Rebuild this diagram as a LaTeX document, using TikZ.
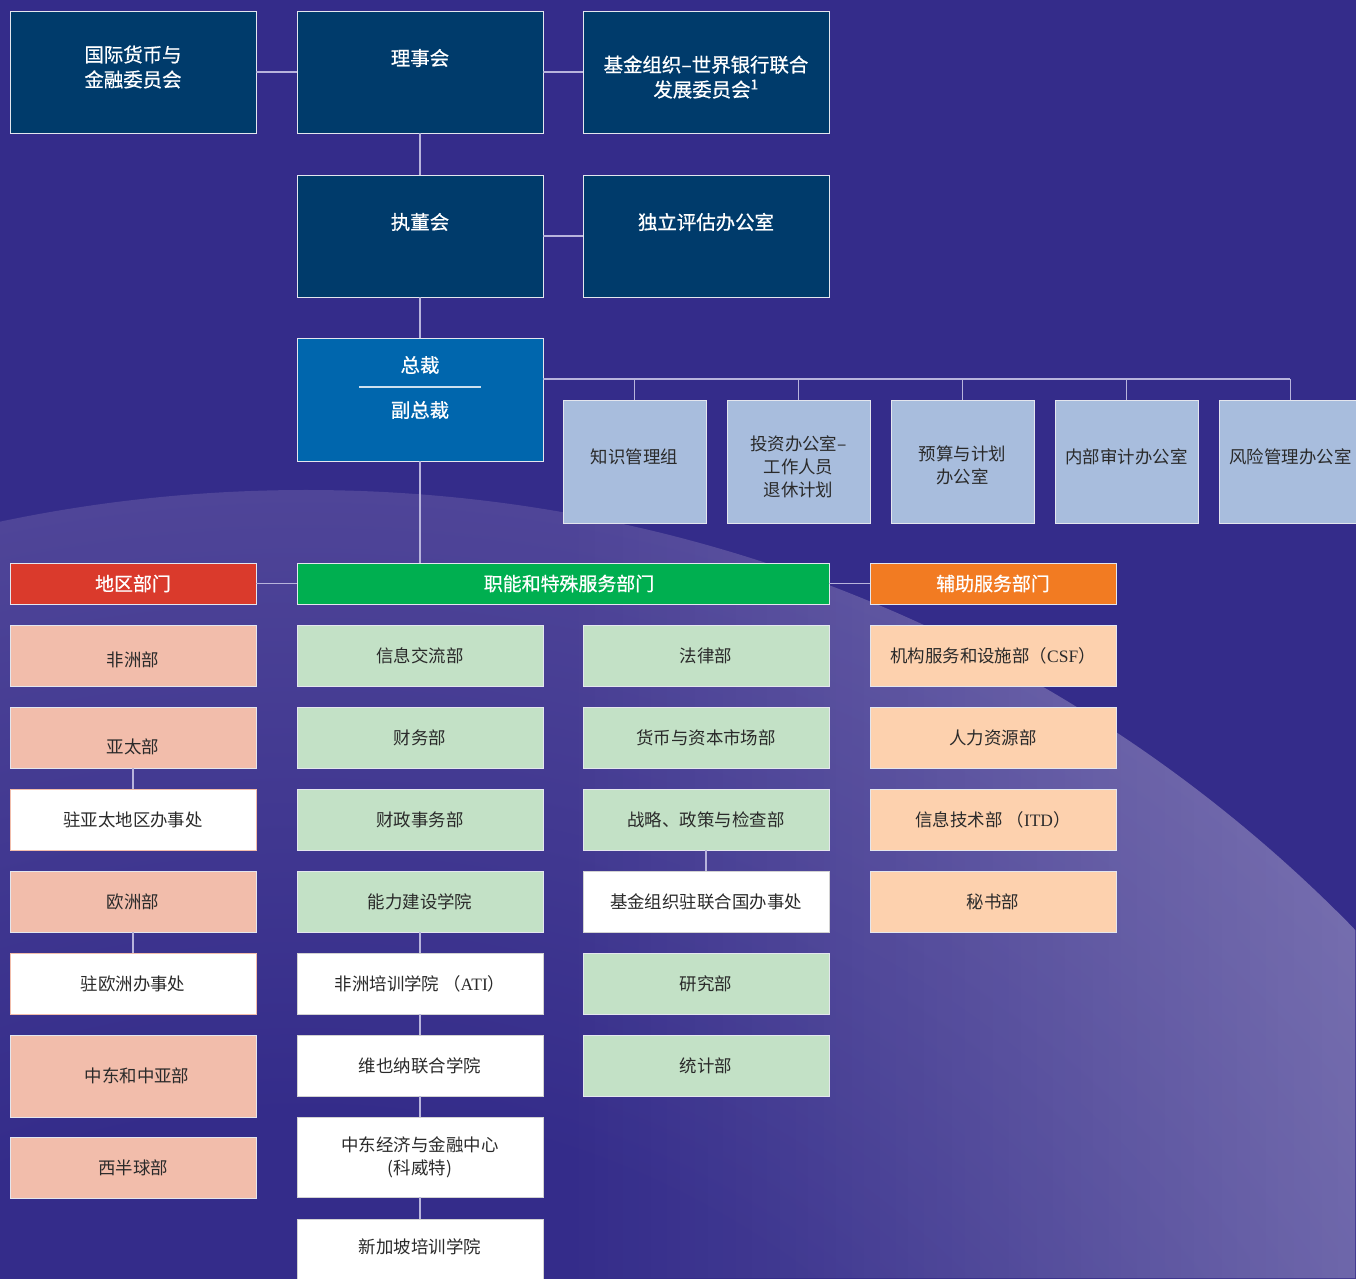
\documentclass[tikz,border=0pt]{standalone}
\usepackage{fontspec}
\setmainfont{Noto Sans CJK SC}
\newfontfamily\medfont[FakeBold=0.7]{Noto Sans CJK SC}
\newfontfamily\tms{Liberation Serif}
\usetikzlibrary{fadings}
\definecolor{bg}{HTML}{342C8A}
\definecolor{rim}{HTML}{4F4598}
\definecolor{navy}{HTML}{003B6B}
\definecolor{presc}{HTML}{0066AD}
\definecolor{lblue}{HTML}{A8BDDD}
\definecolor{hred}{HTML}{DA3A2C}
\definecolor{hgreen}{HTML}{00AF50}
\definecolor{horange}{HTML}{F27B22}
\definecolor{pinkc}{HTML}{F2BDAB}
\definecolor{lgreen}{HTML}{C3E1C6}
\definecolor{peach}{HTML}{FDD1AE}
\definecolor{connc}{HTML}{B8B4DC}
\definecolor{txtc}{HTML}{2A2A2A}
\definecolor{bline}{HTML}{E4E6EE}
\pgfdeclareradialshading{rimshade}{\pgfpoint{0bp}{0bp}}{color(0bp)=(bg); color(14bp)=(bg); color(25bp)=(rim); color(50bp)=(rim)}
\tikzset{
  box/.style={draw=bline, line width=1bp, inner sep=2bp, outer sep=0pt, align=center, anchor=north west, minimum width=246bp, minimum height=61bp},
  navybox/.style={box, fill=navy, minimum height=122bp},
  presbox/.style={box, fill=presc, minimum height=123bp},
  navytxt/.style={align=center, text=white, inner sep=0pt, font=\medfont\fontsize{19.5}{25}\selectfont},
  lbox/.style={box, fill=lblue, minimum width=143bp, minimum height=123bp, text=txtc, font=\fontsize{17.5}{23}\selectfont},
  hdr/.style={box, minimum height=41bp, text=white, font=\medfont\fontsize{19}{22}\selectfont},
  dept/.style={box, text=txtc, font=\fontsize{17.5}{23}\selectfont},
  pinkbox/.style={dept, fill=pinkc},
  greenbox/.style={dept, fill=lgreen},
  peachbox/.style={dept, fill=peach},
  whitebox/.style={dept, fill=white, draw=gray!35},
  conn/.style={draw=connc, line width=1.5bp},
}
\newcommand{\upby}[2]{\raisebox{#1}[\height][\depth]{#2}}
\newcommand{\dnlines}[2]{\raisebox{-#1}[\height][\depth]{\begin{tabular}{@{}c@{}}#2\end{tabular}}}
\begin{document}
\begin{tikzpicture}[x=1bp,y=-1bp]
\useasboundingbox (0,0) rectangle (1356,1278);
\fill[bg] (0,0) rectangle (1356,1278);
% background arc
\shade[shading=rimshade] (306,1910) ellipse [x radius=1450bp, y radius=1420bp];
\begin{scope}
  \clip (306,1910) ellipse [x radius=1450bp, y radius=1420bp];
  \fill[white, fill opacity=0.22, path fading=west] (560,480) rectangle (1356,1278);
\end{scope}

% top boxes
\node[navybox] (imfc) at (10,11) {};
\node[navytxt] (imfcT) at (133,67) {国际货币与\\金融委员会};
\node[navybox] (bog) at (297,11) {};
\node[navytxt] (bogT) at (420,58) {理事会};
\node[navybox] (dc) at (583,11) {};
\node[navytxt] (dcT) at (706,77) {基金组织–世界银行联合\\发展委员会\textsuperscript{1}};
\node[navybox] (eb) at (297,175) {};
\node[navytxt] (ebT) at (420,222) {执董会};
\node[navybox] (ieo) at (583,175) {};
\node[navytxt] (ieoT) at (706,222) {独立评估办公室};
\node[presbox] (md) at (297,338) {};
\node[navytxt] (mdT) at (420,365) {总裁};
\node[navytxt] (dmdT) at (420,410) {副总裁};
\coordinate (sepL) at (359,387);
\coordinate (sepR) at (481,387);
\draw[draw=white!80!presc, line width=1.5bp] (sepL) -- (sepR);

\draw[conn] (imfc.east) -- (bog.west);
\draw[conn] (bog.east) -- (dc.west);
\draw[conn] (bog.south) -- (eb.north);
\draw[conn] (eb.east) -- (ieo.west);
\draw[conn] (eb.south) -- (md.north);

% offices
\node[lbox] (k1) at (563,400) {\upby{5bp}{知识管理组}};
\node[lbox] (k2) at (727,400) {\dnlines{7bp}{投资办公室–\\工作人员\\退休计划}};
\node[lbox] (k3) at (891,400) {\dnlines{6bp}{预算与计划\\办公室}};
\node[lbox] (k4) at (1055,400) {\upby{5bp}{内部审计办公室}};
\node[lbox] (k5) at (1219,400) {\upby{5bp}{风险管理办公室}};
\coordinate (busL) at (543,379);
\coordinate (busR) at (1290,379);
\draw[conn] (busL) -- (busR);
\foreach \k in {k1,k2,k3,k4,k5} { \draw[conn] (\k.north) -- (\k.north |- busL); }

% headers
\node[hdr, fill=hred] (reg) at (10,563) {地区部门};
\node[hdr, fill=hgreen, minimum width=532bp] (func) at (297,563) {\upby{0bp}{\hspace{12bp}职能和特殊服务部门}};
\node[hdr, fill=horange] (sup) at (870,563) {辅助服务部门};
\draw[conn] (md.south) -- (md.south |- func.north);
\draw[conn] (reg.east) -- (func.west);
\draw[conn] (func.east) -- (sup.west);

% regional
\node[pinkbox] (afr) at (10,625) {\upby{-4bp}{非洲部}};
\node[pinkbox] (apd) at (10,707) {\upby{-9bp}{亚太部}};
\node[whitebox, draw=pinkc] (apo) at (10,789) {驻亚太地区办事处};
\node[pinkbox] (eur) at (10,871) {欧洲部};
\node[whitebox, draw=pinkc] (euo) at (10,953) {驻欧洲办事处};
\node[pinkbox, minimum height=82bp] (mcd) at (10,1035) {\hspace{8bp}中东和中亚部};
\node[pinkbox] (whd) at (10,1137) {西半球部};
\draw[conn] (apd.south) -- (apo.north);
\draw[conn] (eur.south) -- (euo.north);

% functional col 1
\node[greenbox] (com) at (297,625) {信息交流部};
\node[greenbox] (fin) at (297,707) {财务部};
\node[greenbox] (fad) at (297,789) {财政事务部};
\node[greenbox] (icd) at (297,871) {能力建设学院};
\node[whitebox] (ati) at (297,953) {非洲培训学院 （{\tms ATI}）};
\node[whitebox] (jvi) at (297,1035) {维也纳联合学院};
\node[whitebox, minimum height=80bp] (cef) at (297,1117) {中东经济与金融中心\\(科威特)};
\node[whitebox, minimum height=80bp] (sti) at (297,1219) {\upby{12bp}{新加坡培训学院}};
\draw[conn] (icd.south) -- (ati.north);
\draw[conn] (ati.south) -- (jvi.north);
\draw[conn] (jvi.south) -- (cef.north);
\draw[conn] (cef.south) -- (sti.north);

% functional col 2
\node[greenbox] (leg) at (583,625) {法律部};
\node[greenbox] (mcm) at (583,707) {货币与资本市场部};
\node[greenbox] (spr) at (583,789) {战略、政策与检查部};
\node[whitebox] (un) at (583,871) {基金组织驻联合国办事处};
\node[greenbox] (res) at (583,953) {研究部};
\node[greenbox] (sta) at (583,1035) {统计部};
\draw[conn] (spr.south) -- (un.north);

% support
\node[peachbox] (csf) at (870,625) {机构服务和设施部（{\tms CSF}）};
\node[peachbox] (hrd) at (870,707) {人力资源部};
\node[peachbox] (itd) at (870,789) {信息技术部 （{\tms ITD}）};
\node[peachbox] (sec) at (870,871) {秘书部};
\end{tikzpicture}
\end{document}
